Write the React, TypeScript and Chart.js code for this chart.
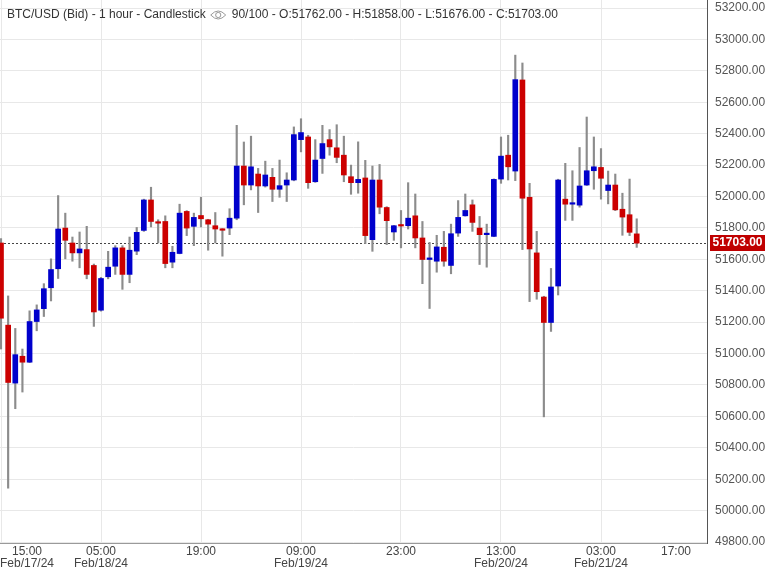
import React, { useEffect, useRef } from "react";
import { Chart, registerables } from "chart.js";

Chart.register(...registerables);

// ---- data (hourly candles, 15:00 Feb/17/24 onward) ----
const OPEN = [
  51704, 51181, 50812, 50983, 50945, 51204, 51286, 51419, 51540, 51799,
  51704, 51641, 51662, 51561, 51276, 51489, 51556, 51673, 51504, 51652,
  51784, 51978, 51835, 51841, 51582, 51637, 51905, 51810, 51879, 51852,
  51814, 51789, 51799, 51862, 52194, 52073, 52143, 52067, 52122, 52046,
  52073, 52105, 52362, 52379, 52094, 52242, 52362, 52310, 52263, 52126,
  52088, 52118, 51725, 52105, 51930, 51774, 51816, 51814, 51877, 51736,
  51599, 51588, 51677, 51561, 51767, 51877, 51947, 51799, 51757, 51746,
  52111, 52263, 52162, 52742, 51995, 51641, 51360, 51198, 51430, 51983,
  51951, 51945, 52073, 52164, 52185, 52038, 52073, 51919, 51884, 51762,
];
const HIGH = [
  51732, 51367, 51160, 51029, 51272, 51310, 51445, 51603, 52006, 51894,
  51742, 51774, 51810, 51570, 51485, 51651, 51687, 51687, 51742, 51803,
  51983, 52059, 51852, 51877, 51683, 51951, 51910, 51894, 51995, 51855,
  51898, 51795, 51922, 52453, 52347, 52384, 52179, 52225, 52179, 52232,
  52151, 52443, 52495, 52390, 52362, 52453, 52426, 52457, 52384, 52200,
  52348, 52230, 52194, 52204, 51935, 51816, 51911, 52088, 52016, 51841,
  51708, 51753, 51778, 51824, 51974, 52016, 51978, 51873, 51824, 52112,
  52379, 52390, 52900, 52850, 52084, 51778, 51365, 51542, 52110, 52211,
  52164, 52312, 52506, 52379, 52305, 52162, 52143, 52021, 52111, 51858,
];
const LOW = [
  51029, 50143, 50649, 50755, 50942, 51145, 51236, 51335, 51478, 51603,
  51588, 51546, 51476, 51173, 51270, 51476, 51504, 51409, 51451, 51630,
  51778, 51806, 51704, 51546, 51546, 51635, 51751, 51687, 51806, 51658,
  51704, 51620, 51757, 51852, 51947, 52042, 51898, 52060, 51968, 51995,
  51968, 52100, 52284, 52052, 52090, 52147, 52263, 52215, 52094, 52014,
  52021, 51700, 51651, 51890, 51694, 51721, 51673, 51793, 51673, 51445,
  51287, 51518, 51556, 51508, 51746, 51875, 51778, 51567, 51550, 51744,
  52084, 52105, 52101, 51662, 51331, 51346, 50597, 51141, 51373, 51848,
  51848, 51932, 52070, 52046, 51983, 51953, 51910, 51753, 51751, 51676,
];
const CLOSE = [
  51225, 50816, 50993, 50945, 51204, 51278, 51413, 51535, 51793, 51721,
  51641, 51666, 51504, 51265, 51478, 51550, 51673, 51504, 51658, 51772,
  51978, 51841, 51830, 51573, 51645, 51894, 51799, 51867, 51858, 51824,
  51793, 51785, 51862, 52194, 52073, 52189, 52067, 52137, 52046, 52069,
  52105, 52394, 52407, 52088, 52232, 52337, 52316, 52249, 52137, 52088,
  52109, 51751, 52105, 51932, 51846, 51814, 51812, 51862, 51736, 51599,
  51609, 51679, 51588, 51763, 51867, 51911, 51835, 51757, 51762, 52109,
  52257, 52189, 52744, 51989, 51666, 51394, 51198, 51424, 52105, 51951,
  51955, 52067, 52164, 52189, 52116, 52073, 51915, 51869, 51772, 51703,
];

const TICK_HOURS = [0, 14, 28, 42, 56, 70, 84, 98];
const TICK_TIMES = ["15:00", "05:00", "19:00", "09:00", "23:00", "13:00", "03:00", "17:00"];
const TICK_DATES = ["Feb/17/24", "Feb/18/24", "", "Feb/19/24", "", "Feb/20/24", "Feb/21/24", ""];
const Y_TICKS = [
  49800, 50000, 50200, 50400, 50600, 50800, 51000, 51200, 51400,
  51600, 51800, 52000, 52200, 52400, 52600, 52800, 53000, 53200,
];
const LAST_PRICE = 51703;
const HEADER_LEFT = "BTC/USD (Bid) - 1 hour - Candlestick";
const HEADER_RIGHT = "90/100 - O:51762.00 - H:51858.00 - L:51676.00 - C:51703.00";

const FONT = '"Liberation Sans", Arial, sans-serif';
const UP = "#0000cc";
const DOWN = "#cc0000";
const WICK = "#8c8c8c";
const GRID = "#e8e8e8";

const overlayPlugin = {
  id: "overlay",
  beforeDatasetsDraw(chart: any) {
    const { ctx, chartArea } = chart;
    const y = Math.round(chart.scales.y.getPixelForValue(LAST_PRICE)) + 0.5;
    ctx.save();
    ctx.strokeStyle = "#444";
    ctx.lineWidth = 1;
    ctx.setLineDash([2, 2]);
    ctx.beginPath();
    ctx.moveTo(chartArea.left, y);
    ctx.lineTo(chartArea.right, y);
    ctx.stroke();
    ctx.restore();
  },
  afterDraw(chart: any) {
    const { ctx, chartArea } = chart;
    const xs = chart.scales.x;
    ctx.save();
    // header
    ctx.font = `12px ${FONT}`;
    ctx.fillStyle = "#333";
    ctx.textBaseline = "middle";
    ctx.textAlign = "left";
    ctx.fillText(HEADER_LEFT, 7, 15);
    const wl = ctx.measureText(HEADER_LEFT).width;
    const ex = 7 + wl + 5;
    // eye icon
    ctx.strokeStyle = "#999";
    ctx.lineWidth = 1;
    ctx.beginPath();
    ctx.moveTo(ex, 15);
    ctx.quadraticCurveTo(ex + 7.5, 7, ex + 15, 15);
    ctx.quadraticCurveTo(ex + 7.5, 23, ex, 15);
    ctx.stroke();
    ctx.beginPath();
    ctx.arc(ex + 7.5, 15, 2.6, 0, Math.PI * 2);
    ctx.stroke();
    ctx.fillText(HEADER_RIGHT, ex + 21, 15);

    // x labels
    ctx.fillStyle = "#444";
    ctx.textAlign = "center";
    TICK_HOURS.forEach((h, i) => {
      const px = xs.getPixelForValue(h);
      const w = Math.max(ctx.measureText(TICK_TIMES[i]).width, ctx.measureText(TICK_DATES[i]).width);
      let left = px - w / 2;
      if (left < 0) left = 0;
      if (left + w > chartArea.right - 16) left = chartArea.right - 16 - w;
      const cx = left + w / 2;
      ctx.fillText(TICK_TIMES[i], cx, chartArea.bottom + 9);
      if (TICK_DATES[i]) ctx.fillText(TICK_DATES[i], cx, chartArea.bottom + 21);
    });

    // last price box
    const py = chart.scales.y.getPixelForValue(LAST_PRICE);
    ctx.fillStyle = "#c00000";
    ctx.fillRect(chartArea.right + 3, Math.round(py - 8), 55, 16);
    ctx.fillStyle = "#ffffff";
    ctx.font = `bold 12px ${FONT}`;
    ctx.textAlign = "center";
    ctx.fillText(LAST_PRICE.toFixed(2), chartArea.right + 30.5, py);
    ctx.restore();
  },
};

export default function App() {
  const ref = useRef<HTMLCanvasElement | null>(null);

  useEffect(() => {
    if (!ref.current) return;
    Chart.defaults.font.family = FONT;
    const idx = OPEN.map((_, i) => i);
    const chart = new Chart(ref.current, {
      type: "bar",
      data: {
        datasets: [
          {
            label: "wick",
            data: idx.map((i) => ({ x: i, y: [LOW[i], HIGH[i]] })) as any,
            backgroundColor: WICK,
            barThickness: 1.5,
            grouped: false,
            order: 2,
          } as any,
          {
            label: "body",
            data: idx.map((i) => ({ x: i, y: [OPEN[i], CLOSE[i]] })) as any,
            backgroundColor: idx.map((i) => (CLOSE[i] >= OPEN[i] ? UP : DOWN)),
            barThickness: 5,
            minBarLength: 1.5,
            grouped: false,
            order: 1,
          } as any,
        ],
      },
      options: {
        animation: false,
        responsive: true,
        maintainAspectRatio: false,
        layout: { padding: 0 },
        plugins: { legend: { display: false }, tooltip: { enabled: false } },
        scales: {
          x: {
            type: "linear",
            min: -0.14,
            max: 98.84,
            offset: false,
            afterBuildTicks: (a: any) => {
              a.ticks = TICK_HOURS.map((v) => ({ value: v }));
            },
            afterFit: (s: any) => {
              s.height = 28;
              s.paddingLeft = 0;
              s.paddingRight = 0;
            },
            grid: {
              offset: false,
              color: (c: any) => (c.tick && c.tick.value === 98 ? "rgba(0,0,0,0)" : GRID),
              drawTicks: false,
            },
            border: { color: "#9a9a9a" },
            ticks: { display: false },
          },
          y: {
            type: "linear",
            position: "right",
            min: 49794,
            max: 53251,
            afterBuildTicks: (a: any) => {
              a.ticks = Y_TICKS.map((v) => ({ value: v }));
            },
            afterFit: (s: any) => {
              s.width = 61;
              s.paddingTop = 0;
              s.paddingBottom = 0;
            },
            grid: { color: GRID, drawTicks: false },
            border: { color: "#555" },
            ticks: {
              padding: 8,
              color: "#555",
              font: { family: FONT, size: 12 },
              callback: (v: any) => Number(v).toFixed(2),
            },
          },
        },
      } as any,
      plugins: [overlayPlugin],
    });
    return () => chart.destroy();
  }, []);

  return (
    <div style={{ position: "fixed", left: 0, top: 0, width: 768, height: 571, background: "#fff" }}>
      <canvas ref={ref} />
    </div>
  );
}
